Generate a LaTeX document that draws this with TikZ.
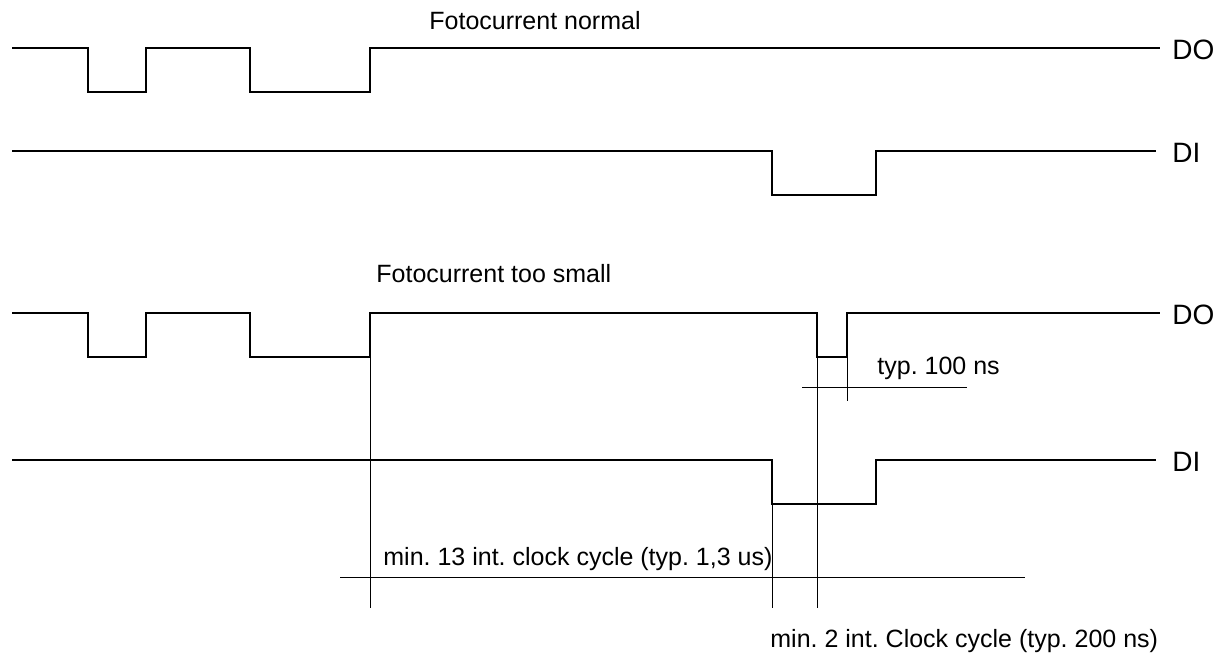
\documentclass[tikz,border=0pt]{standalone}
\usepackage{fontspec}
\setmainfont{Liberation Sans}
\frenchspacing
\begin{document}
\begin{tikzpicture}[x=0.5pt,y=-0.5pt,
  signal/.style={line width=1.25pt,line join=miter},
  thin/.style={line width=0.5pt},
  lbl/.style={anchor=base west,inner sep=0pt,font=\fontsize{12.5}{14}\selectfont\frenchspacing},
  sig/.style={anchor=base west,inner sep=0pt,font=\fontsize{14}{16}\selectfont}]
\useasboundingbox (0,0) rectangle (1228,654);
% titles
\node[lbl] (t1) at (429,29) {Fotocurrent normal};
\node[lbl] (t2) at (376,282) {Fotocurrent too small};
% row 1 DO
\draw[signal] (12,48) -- (88,48) -- (88,92) -- (146,92) -- (146,48) -- (250,48) -- (250,92) -- (370,92) -- (370,48) -- (1160,48);
\node[sig] (do1) at (1172,59) {DO};
% row 2 DI
\draw[signal] (12,151) -- (772,151) -- (772,195) -- (876,195) -- (876,151) -- (1156,151);
\node[sig] (di1) at (1172,162) {DI};
% row 3 DO
\draw[signal] (12,313) -- (88,313) -- (88,357) -- (146,357) -- (146,313) -- (250,313) -- (250,357) -- (370,357) -- (370,313) -- (817,313) -- (817,357) -- (847,357) -- (847,313) -- (1160,313);
\node[sig] (do2) at (1172,324) {DO};
% row 4 DI
\draw[signal] (12,460) -- (772,460) -- (772,504) -- (876,504) -- (876,460) -- (1156,460);
\node[sig] (di2) at (1172,471) {DI};
% dimension lines
\draw[thin] (370,313) -- (370,608);
\draw[thin] (772,504) -- (772,608);
\draw[thin] (817,357) -- (817,608);
\draw[thin] (847,357) -- (847,401);
\draw[thin] (802,387) -- (967,387);
\draw[thin] (340,577) -- (1025,577);
\node[lbl] (typ) at (877,374) {typ. 100 ns};
\node[lbl] (min13) at (383,565) {min. 13 int. clock cycle (typ. 1,3 us)};
\node[lbl] (min2) at (770,647) {min. 2 int. Clock cycle (typ. 200 ns)};
\end{tikzpicture}
\end{document}
